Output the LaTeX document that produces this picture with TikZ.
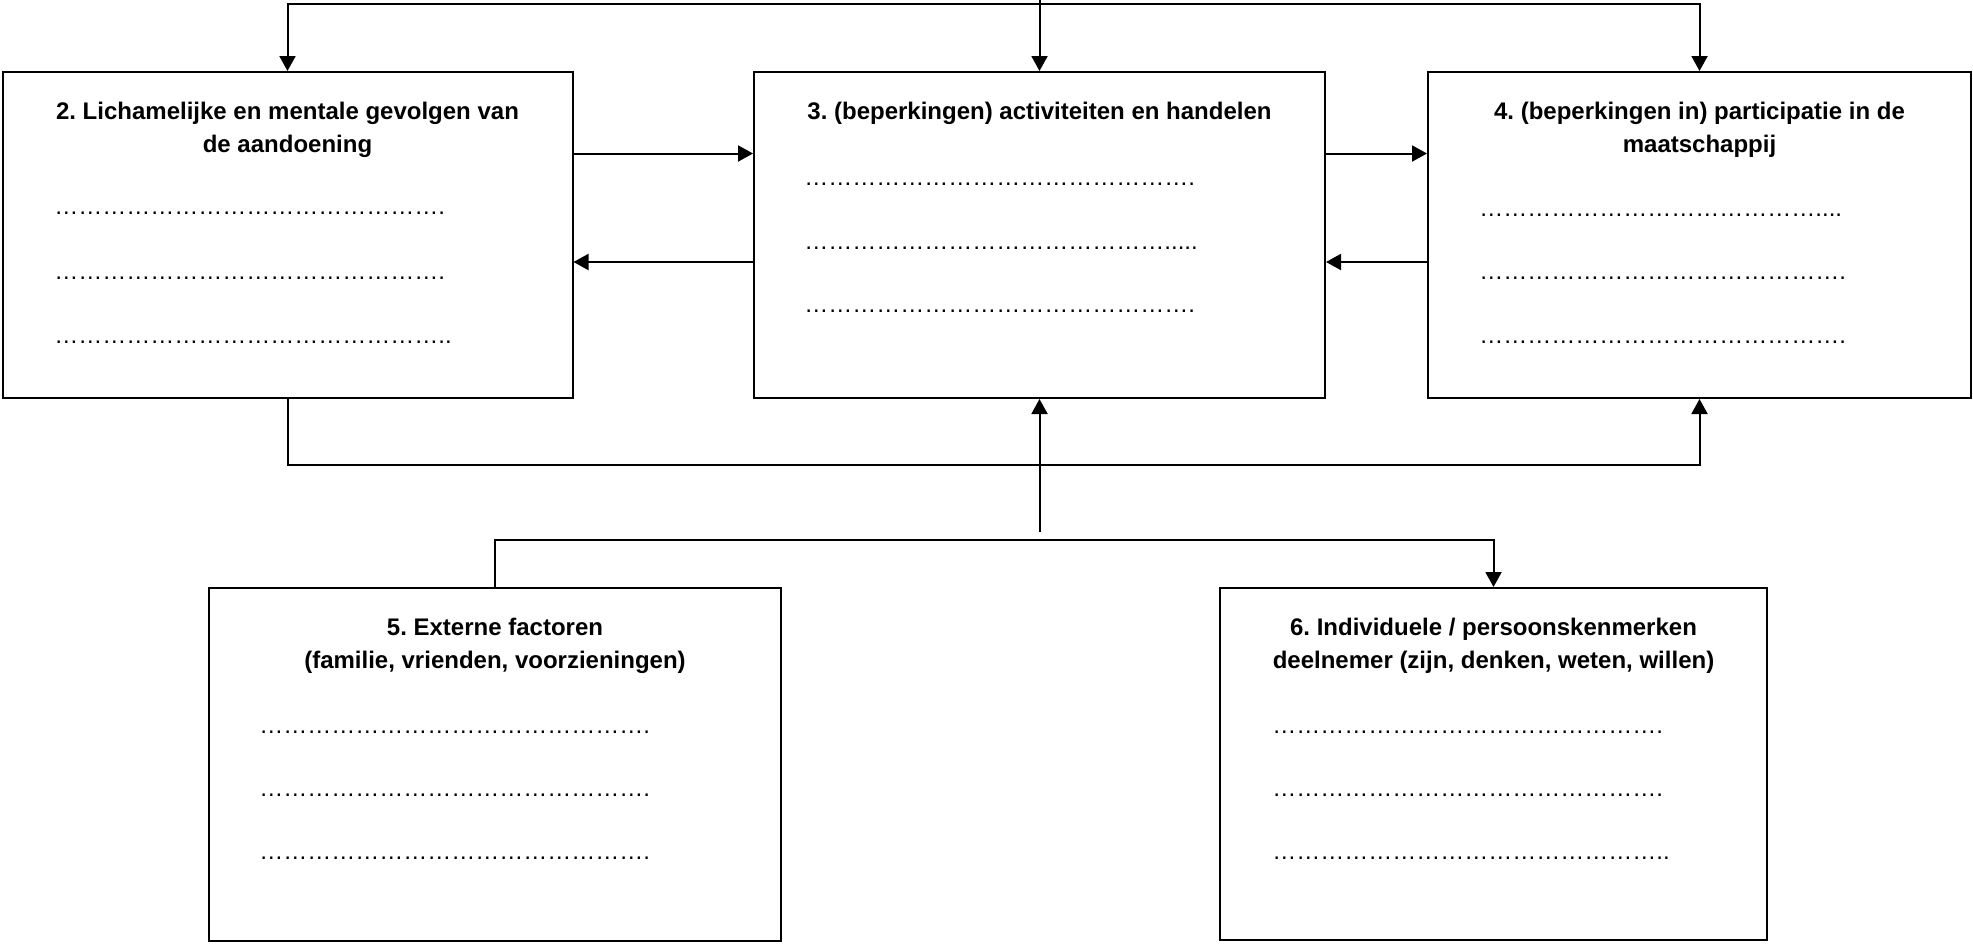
\documentclass[tikz,border=0pt]{standalone}
\usepackage{fontspec}
\setmainfont{Liberation Sans}
\frenchspacing
\usetikzlibrary{arrows.meta}
\tikzstyle{box} = [rectangle, draw, line width=1pt, inner sep=0pt]
\tikzstyle{title} = [inner sep=0pt, anchor=north, align=center, font=\fontsize{12pt}{16.5pt}\selectfont\bfseries]
\tikzstyle{dotline} = [inner sep=0pt, anchor=base west, font=\fontsize{12pt}{14pt}\selectfont]
\tikzstyle{arrowline} = [draw, line width=1pt, -{Triangle[length=7.5pt, width=8pt]}]
% a row of ellipses with a tail of periods
\newcommand{\stippel}[2]{\foreach \p in {1,...,#1}{…}#2}

\begin{document}
\begin{tikzpicture}[x=0.5pt, y=-0.5pt]
	\useasboundingbox (0,0) rectangle (1973,944);

	% boxes
	\node [box, minimum width=285pt, minimum height=163pt] (box2) at (287.5,235) {};
	\node [box, minimum width=285.5pt, minimum height=163pt] (box3) at (1039.5,235) {};
	\node [box, minimum width=271.5pt, minimum height=163pt] (box4) at (1699.5,235) {};
	\node [box, minimum width=286pt, minimum height=176.5pt] (box5) at (495,764.5) {};
	\node [box, minimum width=273.5pt, minimum height=176pt] (box6) at (1493.5,764) {};

	% titles
	\node [title] (t2) at (287.5,101.5) {2. Lichamelijke en mentale gevolgen van\\de aandoening};
	\node [title] (t3) at (1039.5,101.5) {3. (beperkingen) activiteiten en handelen};
	\node [title] (t4) at (1699.5,101.5) {4. (beperkingen in) participatie in de\\maatschappij};
	\node [title] (t5) at (495,617.5) {5. Externe factoren\\(familie, vrienden, voorzieningen)};
	\node [title] (t6) at (1493.5,617.5) {6. Individuele / persoonskenmerken\\deelnemer (zijn, denken, weten, willen)};

	% dotted lines
	\node [dotline] (d21) at (54,214) {\stippel{16}{.}};
	\node [dotline] (d22) at (54,279) {\stippel{16}{.}};
	\node [dotline] (d23) at (54,343) {\stippel{16}{..}};
	\node [dotline] (d31) at (804,185) {\stippel{16}{.}};
	\node [dotline] (d32) at (804,249) {\stippel{15}{.....}};
	\node [dotline] (d33) at (804,312) {\stippel{16}{.}};
	\node [dotline] (d41) at (1479,216) {\stippel{14}{....}};
	\node [dotline] (d42) at (1479,279) {\stippel{15}{.}};
	\node [dotline] (d43) at (1479,343) {\stippel{15}{.}};
	\node [dotline] (d51) at (259,733) {\stippel{16}{.}};
	\node [dotline] (d52) at (259,796) {\stippel{16}{.}};
	\node [dotline] (d53) at (259,859) {\stippel{16}{.}};
	\node [dotline] (d61) at (1272,733) {\stippel{16}{.}};
	\node [dotline] (d62) at (1272,796) {\stippel{16}{.}};
	\node [dotline] (d63) at (1272,859) {\stippel{16}{..}};

	% connectors
	\coordinate (edge) at (1039.5,0);
	\coordinate (top) at (1039.5,4);
	\coordinate (mid) at (1039.5,532);

	\path [arrowline] (edge) -- (box3.north);
	\path [arrowline] (top) -| (box2.north);
	\path [arrowline] (top) -| (box4.north);
	\path [arrowline] ([yshift=40.75pt]box2.east) -- ([yshift=40.75pt]box3.west);
	\path [arrowline] ([yshift=-13.5pt]box3.west) -- ([yshift=-13.5pt]box2.east);
	\path [arrowline] ([yshift=40.75pt]box3.east) -- ([yshift=40.75pt]box4.west);
	\path [arrowline] ([yshift=-13.5pt]box4.west) -- ([yshift=-13.5pt]box3.east);
	\path [arrowline] (box2.south) -- ++(0,66) -| (box4.south);
	\path [arrowline] (mid) -- (box3.south);
	\path [arrowline] (box5.north) -- ++(0,-47) -| (box6.north);
\end{tikzpicture}
\end{document}
